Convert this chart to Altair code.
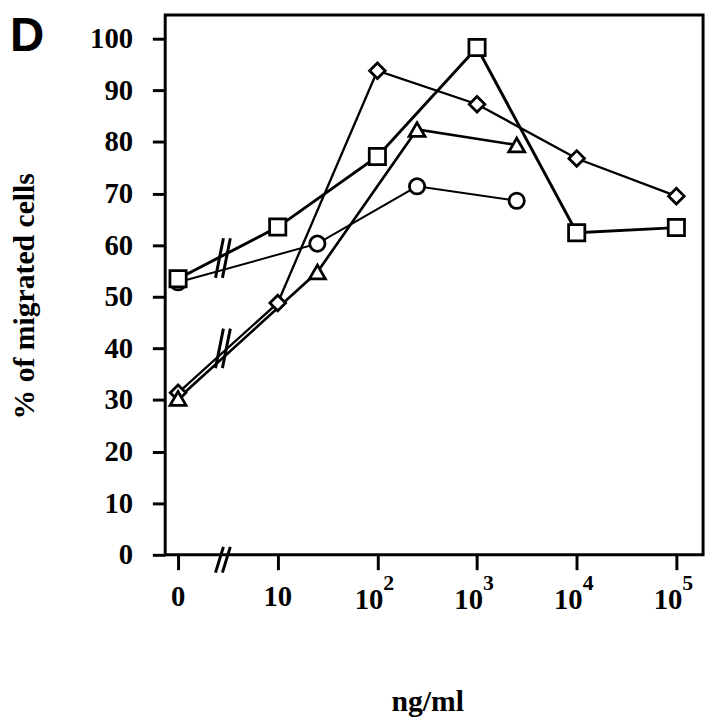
import altair as alt
import pandas as pd

# ---- data ----
conc_a = [0, 10, 100, 1000, 10000, 100000]        # ng/ml, square & diamond series
square_pct = [53.5, 63.5, 77.2, 98.3, 62.4, 63.4]
diamond_pct = [31.4, 48.8, 93.8, 87.3, 76.8, 69.5]

conc_b = [0, 25, 250, 2500]                        # ng/ml, triangle & circle series
triangle_pct = [30.3, 54.8, 82.4, 79.4]
circle_pct = [52.8, 60.3, 71.4, 68.6]

series_names = ["circle", "diamond", "triangle", "square"]
series_shapes = ["circle", "diamond", "triangle-up", "square"]
series_widths = [2.0, 3.0, 3.8, 3.8]
series_sizes = [240, 270, 310, 340]

tick_pos = [0, 1, 2, 3, 4, 5]
plain_pos = [0, 1]
plain_labels = ["0", "10"]
pow_pos = [2, 3, 4, 5]
pow_base = ["10", "10", "10", "10"]
pow_exp = ["2", "3", "4", "5"]

# axis-break annotations ("//") on the lines and on the x axis
line_break_x = [0.45, 0.45]
line_break_y = [57.5, 40.0]
axis_break_x = [0.45]
axis_break_y = [0]

rows = []
for n, v in zip(conc_b, circle_pct):
    rows.append({"series": "circle", "ng": n, "pct": v})
for n, v in zip(conc_a, diamond_pct):
    rows.append({"series": "diamond", "ng": n, "pct": v})
for n, v in zip(conc_b, triangle_pct):
    rows.append({"series": "triangle", "ng": n, "pct": v})
for n, v in zip(conc_a, square_pct):
    rows.append({"series": "square", "ng": n, "pct": v})
df = pd.DataFrame(rows)

W, H = 544, 546
xscale = alt.Scale(domain=[-0.129, 5.268], nice=False, zero=False)
yscale = alt.Scale(domain=[0, 104.6], nice=False, zero=False)
SERIF = "Liberation Serif"

xaxis = alt.Axis(values=tick_pos, labels=False, tickSize=15, tickWidth=3, tickColor="black",
                 domain=False, grid=False, title="ng/ml", titleFont=SERIF, titleFontSize=30,
                 titleFontWeight="bold", titleColor="black", titleX=265, titleY=157,
                 titleAlign="center", titleBaseline="alphabetic")
yaxis = alt.Axis(values=list(range(0, 101, 10)), tickSize=13, tickWidth=3, tickColor="black",
                 domain=False, grid=False, labelFont=SERIF, labelFontSize=29, labelFontWeight="bold",
                 labelColor="black", labelPadding=20, labelFlush=False, labelOverlap=False,
                 title="% of migrated cells", titleFont=SERIF, titleFontSize=30, titleFontWeight="bold",
                 titleColor="black", titleAngle=270, titleX=-142, titleY=284,
                 titleAlign="center", titleBaseline="middle")

base = alt.Chart(df).transform_calculate(
    pos="datum.ng > 0 ? log(datum.ng) / LN10 : 0"
)

x_enc = alt.X("pos:Q", scale=xscale, axis=xaxis)
y_enc = alt.Y("pct:Q", scale=yscale, axis=yaxis)

lines = base.mark_line(color="black", clip=False).encode(
    x=x_enc, y=y_enc, detail="series:N",
    strokeWidth=alt.StrokeWidth("series:N", scale=alt.Scale(domain=series_names, range=series_widths),
                                legend=None),
    order=alt.Order("ng:Q"),
)

points = base.mark_point(filled=True, fill="white", stroke="black", strokeWidth=2.8,
                         opacity=1, clip=False).encode(
    x=alt.X("pos:Q", scale=xscale),
    y=alt.Y("pct:Q", scale=yscale),
    shape=alt.Shape("series:N", scale=alt.Scale(domain=series_names, range=series_shapes), legend=None),
    size=alt.Size("series:N", scale=alt.Scale(domain=series_names, range=series_sizes), legend=None),
)

lb = pd.DataFrame({"x": line_break_x, "y": line_break_y})
ab = pd.DataFrame({"x": axis_break_x, "y": axis_break_y})


def slashes(data, half_h, yoff):
    layers = []
    for dx in (-3.5, 3.5):
        layers.append(
            alt.Chart(data).mark_rule(color="black", strokeWidth=3, clip=False,
                                      xOffset=dx + 4, x2Offset=dx - 4,
                                      yOffset=yoff - half_h, y2Offset=yoff + half_h).encode(
                x=alt.X("x:Q", scale=xscale), x2="x:Q",
                y=alt.Y("y:Q", scale=yscale), y2="y:Q")
        )
    return layers


plain_df = pd.DataFrame({"pos": plain_pos, "lab": plain_labels})
pow_df = pd.DataFrame({"pos": pow_pos, "b": pow_base, "e": pow_exp})

plain_txt = alt.Chart(plain_df).mark_text(font=SERIF, fontSize=29, fontWeight="bold", color="black",
                                          align="center", baseline="alphabetic", clip=False).encode(
    x=alt.X("pos:Q", scale=xscale), y=alt.value(H + 52), text="lab:N")
pow_base_txt = alt.Chart(pow_df).mark_text(font=SERIF, fontSize=29, fontWeight="bold", color="black",
                                           align="right", baseline="alphabetic", dx=6, clip=False).encode(
    x=alt.X("pos:Q", scale=xscale), y=alt.value(H + 55), text="b:N")
pow_exp_txt = alt.Chart(pow_df).mark_text(font=SERIF, fontSize=22, fontWeight="bold", color="black",
                                          align="left", baseline="alphabetic", dx=6, clip=False).encode(
    x=alt.X("pos:Q", scale=xscale), y=alt.value(H + 36), text="e:N")

panel_letter = alt.Chart(pd.DataFrame({"t": ["D"]})).mark_text(
    font="Liberation Sans", fontSize=48, fontWeight="bold", color="black",
    align="left", baseline="top", clip=False).encode(
    x=alt.value(-157), y=alt.value(-2), text="t:N")

chart = alt.layer(
    lines, points, *slashes(lb, 20, 0), *slashes(ab, 13, 5),
    plain_txt, pow_base_txt, pow_exp_txt, panel_letter
).properties(
    width=W, height=H,
    autosize=alt.AutoSizeParams(type="none"),
    padding={"left": 159, "top": 3, "right": 7, "bottom": 163},
    background="white",
).configure_view(stroke="black", strokeWidth=3)

chart.save("out.html", embed_options={"renderer": "svg", "actions": False})
